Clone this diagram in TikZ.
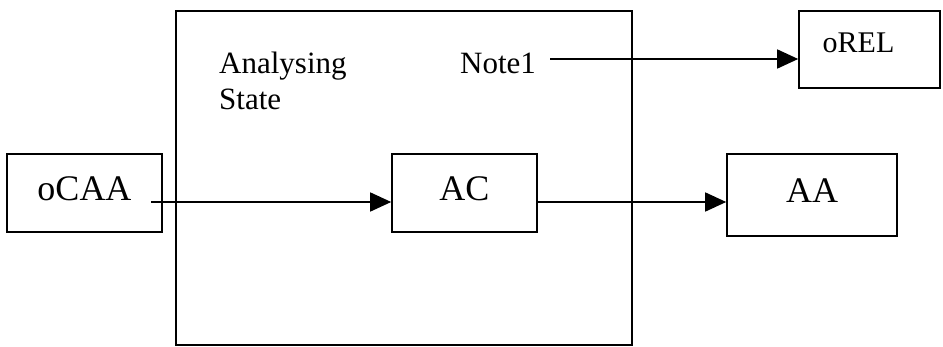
\documentclass[tikz,border=0pt]{standalone}
\usepackage{fontspec}
\setmainfont{Liberation Serif}
\usetikzlibrary{arrows.meta}
\begin{document}
\begin{tikzpicture}[x=1pt,y=-1pt,
  box/.style={draw=black, line width=1.6pt, rectangle, inner sep=0pt, text depth=9pt,
    font=\fontsize{36}{40}\selectfont},
  bigbox/.style={draw=black, line width=2pt, rectangle, inner sep=0pt},
  lbl/.style={inner sep=0pt, font=\fontsize{31}{36}\selectfont},
  arr/.style={line width=1.6pt, -{Triangle[length=21pt,width=19pt]}}]
\useasboundingbox (0,0) rectangle (943,347);
\node[bigbox, minimum width=456pt, minimum height=334pt] (state) at (404,178) {};
\node[box, minimum width=155pt, minimum height=78pt] (ocaa) at (84.5,193) {oCAA};
\node[box, minimum width=145pt, minimum height=78pt] (ac) at (464.5,193) {AC};
\node[box, minimum width=170pt, minimum height=82pt] (aa) at (812,195) {AA};
\node[box, minimum width=141pt, minimum height=77pt] (orel) at (869.5,49.5) {};
\node[lbl, font=\fontsize{30}{34}\selectfont] (oreltext) at (858.5,42.5) {oREL};
\node[lbl, anchor=base west] (analysing) at (219,74) {Analysing};
\node[lbl, anchor=base west] (statetext) at (219,110) {State};
\node[lbl, anchor=base west] (note) at (460,74) {Note1};
\coordinate (nstart) at (550,59);
\draw[arr] (nstart) -- (nstart -| orel.west);
\coordinate (cstart) at (151,202);
\draw[arr] (cstart) -- (cstart -| ac.west);
\draw[arr] (cstart -| ac.east) -- (cstart -| aa.west);
\end{tikzpicture}
\end{document}
